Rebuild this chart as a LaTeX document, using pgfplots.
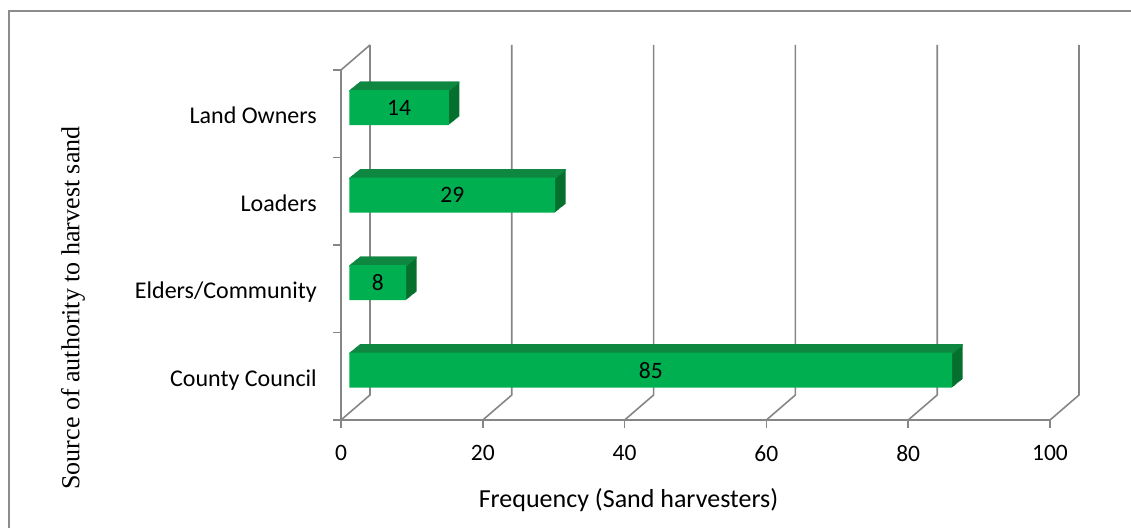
\documentclass[border=0pt]{standalone}
\usepackage{pgfplots}
\pgfplotsset{compat=1.18}
\usepackage{pgfplotstable}
\usepackage{fontspec}
\setmainfont{Carlito}
\newfontfamily\serifttl{Liberation Serif}

\definecolor{gridgray}{RGB}{134,134,134}
\definecolor{framegray}{RGB}{140,140,140}
\definecolor{barfront}{RGB}{0,176,80}
\definecolor{bartop}{RGB}{14,136,64}
\definecolor{barside}{RGB}{5,112,46}

% category position (front plane) and frequency
\pgfplotstableread{
y   v
0.5 85
1.5 8
2.5 29
3.5 14
}\sourcedata

\begin{document}
\begin{tikzpicture}
\useasboundingbox (-341bp,-108bp) rectangle (790bp,420bp);
\begin{axis}[
  at={(0,0)}, anchor=south west,
  scale only axis,
  x=7.09bp, y=87.5bp,
  xmin=0, xmax=100, ymin=0, ymax=4,
  clip=false,
  axis x line*=bottom, axis y line*=left,
  axis line style={draw=gridgray, line width=1.6bp, -},
  xtick={0,20,...,100},
  ytick={0,...,4}, yticklabels={},
  tick align=outside,
  major tick length=8bp,
  tick style={draw=gridgray, line width=1.6bp},
  /pgf/number format/assume math mode=true,
  xticklabel style={inner sep=0pt, anchor=north, yshift=-17bp,
    font=\fontsize{23.5bp}{28bp}\selectfont},
]
% back wall gridlines with their floor diagonals
\pgfplotsinvokeforeach{0,20,...,100}{
  \draw[gridgray, line width=1.6bp] (axis cs:#1,0) -- (axis cs:#1+4.09,0.2857) -- (axis cs:#1+4.09,4.2857);
}
\draw[gridgray, line width=1.6bp] (axis cs:0,4) -- (axis cs:4.09,4.2857);

% bar depth: side faces (swept rectangle)
\pgfplotsinvokeforeach{1,...,12}{
  \addplot[xbar, bar width=35bp, bar shift=6.125bp, draw=none, fill=barside,
    xshift=8.5bp+#1*0.875bp, yshift=#1*0.708bp]
    table[x=v, y=y]{\sourcedata};
}
% bar depth: top faces (swept top edge)
\pgfplotsinvokeforeach{0,...,12}{
  \addplot[xbar, bar width=1.6bp, bar shift=22.8bp, draw=none, fill=bartop,
    xshift=8.5bp+#1*0.875bp, yshift=#1*0.708bp]
    table[x=v, y=y]{\sourcedata};
}
% front faces
\addplot[xbar, bar width=35bp, bar shift=6.125bp, draw=none, fill=barfront, xshift=8.5bp]
  table[x=v, y=y]{\sourcedata};

% value labels
\addplot[draw=none, mark=none, point meta=explicit,
  nodes near coords, nodes near coords align={anchor=center},
  every node near coord/.append style={anchor=center, inner sep=0pt, text=black,
    font=\fontsize{23.5bp}{28bp}\selectfont, xshift=8.5bp, yshift=6.125bp}]
  table[x expr=\thisrow{v}/2, y=y, meta=v]{\sourcedata};

% category names
\begin{scope}[every node/.style={anchor=base east, inner sep=0pt, xshift=-24bp, yshift=-10bp,
    font=\fontsize{24bp}{28bp}\selectfont}]
\node at (axis cs:0,3.5) {Land Owners};
\node at (axis cs:0,2.5) {Loaders};
\node at (axis cs:0,1.5) {Elders/Community};
\node at (axis cs:0,0.5) {County Council};
\end{scope}
\end{axis}

\node[font=\fontsize{26bp}{30bp}\selectfont] at (287.5bp,-80bp) {Frequency (Sand harvesters)};
\node[rotate=90] at (-268bp,112bp)
  {\serifttl\fontsize{26bp}{30bp}\selectfont Source of authority to harvest sand};

\draw[framegray, line width=2bp] (-332bp,-130bp) -- (-332bp,409bp) -- (800bp,409bp);
\end{tikzpicture}
\end{document}
